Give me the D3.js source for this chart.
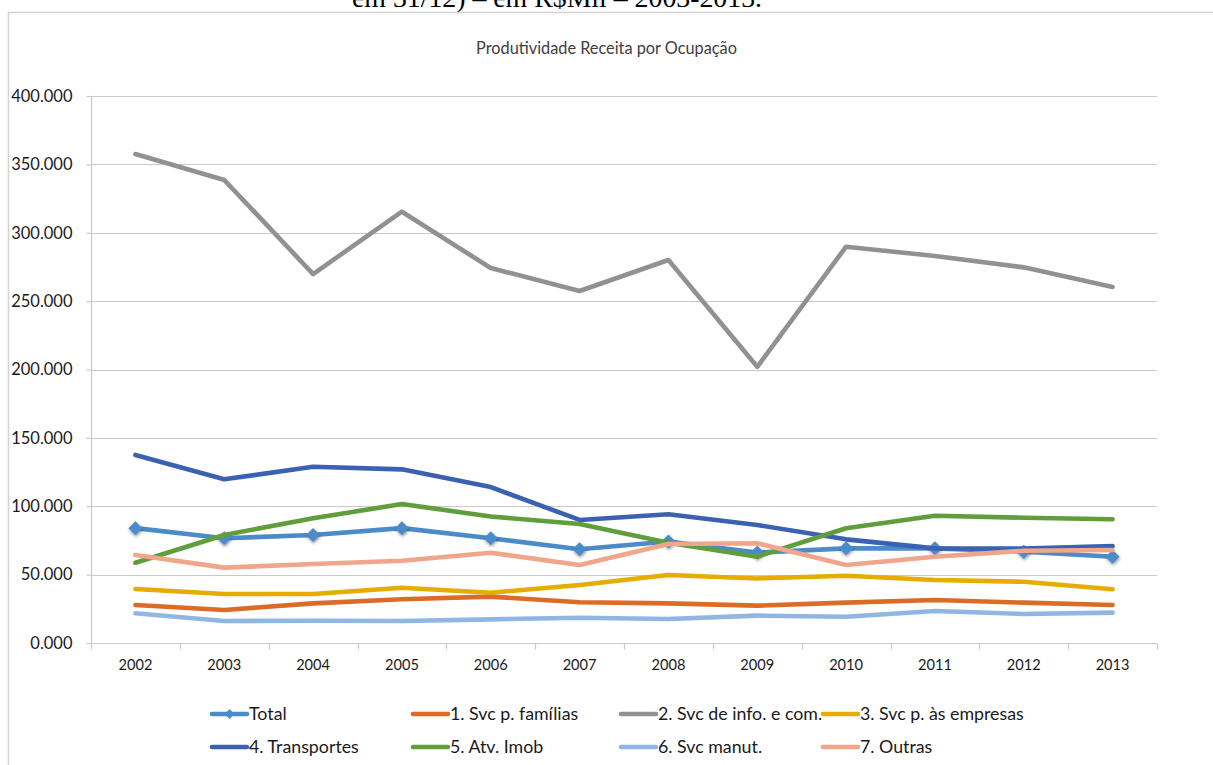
<!DOCTYPE html>
<html lang="pt">
<head>
<meta charset="utf-8">
<script src="https://cdn.jsdelivr.net/npm/d3@7"></script>
<style>
  html, body { margin: 0; padding: 0; background: #fff; }
  svg { display: block; }
</style>
</head>
<body>
<svg id="chart" width="1213" height="765"></svg>
<script>
// Anos (categorias do eixo X)
const years = ["2002","2003","2004","2005","2006","2007","2008","2009","2010","2011","2012","2013"];

// Produtividade (receita por pessoa ocupada), por segmento
const total        = [84.0, 76.6, 79.0, 84.0, 76.6, 68.5, 74.2, 66.1, 69.2, 69.2, 66.8, 63.1];
const svcFamilias  = [27.8, 24.1, 29.0, 32.0, 33.9, 29.8, 29.0, 27.3, 29.5, 31.4, 29.5, 27.8];
const svcInfoCom   = [357.6, 338.6, 269.8, 315.4, 274.2, 257.4, 280.1, 202.0, 289.8, 283.0, 274.7, 260.4];
const svcEmpresas  = [39.5, 35.8, 35.8, 40.4, 36.8, 42.4, 49.7, 47.2, 49.2, 46.1, 44.8, 39.3];
const transportes  = [137.5, 119.7, 128.9, 127.0, 114.0, 90.0, 94.1, 86.3, 75.8, 69.2, 69.0, 70.9];
const atvImob      = [58.7, 79.0, 91.2, 101.6, 92.5, 87.0, 73.3, 63.1, 83.9, 93.1, 91.6, 90.5];
const svcManut     = [21.7, 16.1, 16.3, 16.1, 17.3, 18.5, 17.6, 20.0, 19.2, 23.4, 21.2, 22.2];
const outras       = [64.4, 55.1, 57.8, 60.2, 66.0, 57.0, 72.4, 72.9, 57.0, 63.1, 67.5, 68.0];

// Ticks do eixo Y
const yTicks = [0, 50, 100, 150, 200, 250, 300, 350, 400];

const seriesNames = ["Total", "1. Svc p. famílias", "2. Svc de info. e com.", "3. Svc p. às empresas",
                     "4. Transportes", "5. Atv. Imob", "6. Svc manut.", "7. Outras"];
const seriesValues = [total, svcFamilias, svcInfoCom, svcEmpresas, transportes, atvImob, svcManut, outras];
const seriesColors = ["#4b8bc9", "#dc6b28", "#919191", "#e6ad00", "#3b62b2", "#5f9e3b", "#90b7e3", "#f1a68b"];

const series = seriesNames.map((name, i) => ({
  name, color: seriesColors[i], marker: i === 0,
  values: seriesValues[i].map((v, j) => ({ year: years[j], value: v }))
}));

const svg = d3.select("#chart");
const FONT = "Lato, 'Open Sans', sans-serif";

// Shadow for the Total markers
const defs = svg.append("defs");
const sh = defs.append("filter").attr("id", "mshadow")
  .attr("x", "-50%").attr("y", "-50%").attr("width", "200%").attr("height", "200%");
sh.append("feDropShadow").attr("dx", 0.5).attr("dy", 1.5).attr("stdDeviation", 1.4)
  .attr("flood-color", "#000").attr("flood-opacity", 0.45);

// Page text above the chart frame (clipped by the top edge)
svg.append("text")
  .attr("x", 352).attr("y", 6.5)
  .attr("font-family", "'Liberation Serif', 'Times New Roman', serif")
  .attr("font-size", 27.8).attr("fill", "#000")
  .text("em 31/12) – em R$Mil – 2003-2013.");

// Chart frame
svg.append("path")
  .attr("d", "M8.5,765V12.5H1213")
  .attr("fill", "none").attr("stroke", "#d4d4d4").attr("stroke-width", 1.5);

// Chart title
svg.append("text")
  .attr("x", 606.5).attr("y", 53.5)
  .attr("text-anchor", "middle")
  .attr("font-family", FONT).attr("font-size", 16.3).attr("fill", "#404040")
  .text("Produtividade Receita por Ocupação");

const plot = { left: 91, right: 1157, top: 96, bottom: 643 };

const x = d3.scaleBand().domain(years).range([plot.left, plot.right]).paddingInner(0).paddingOuter(0);
const xc = d => x(d) + x.bandwidth() / 2;
const y = d3.scaleLinear().domain([0, 400]).range([plot.bottom, plot.top]);

const gridColor = "#c9c9c9";

// Horizontal gridlines
svg.append("g")
  .selectAll("line").data(yTicks.filter(t => t > 0)).join("line")
  .attr("x1", plot.left).attr("x2", plot.right)
  .attr("y1", d => Math.round(y(d)) + 0.5).attr("y2", d => Math.round(y(d)) + 0.5)
  .attr("stroke", gridColor).attr("stroke-width", 1.2);

// Y axis
const yAxis = d3.axisLeft(y).tickValues(yTicks).tickSize(5).tickPadding(14)
  .tickFormat(d3.format(".3f"));
const gy = svg.append("g").attr("transform", `translate(${plot.left + 0.5},0)`).call(yAxis);
gy.select(".domain").attr("stroke", gridColor).attr("stroke-width", 1.2)
  .attr("d", `M0,${plot.top}V${plot.bottom}`);
gy.selectAll(".tick line").attr("stroke", gridColor).attr("stroke-width", 1.2);
gy.selectAll(".tick text").attr("font-family", FONT).attr("font-size", 16.5).attr("fill", "#1a1a1a");

// X axis with ticks on category boundaries
const gx = svg.append("g").attr("transform", `translate(0,${plot.bottom + 0.5})`);
gx.append("line").attr("x1", plot.left).attr("x2", plot.right)
  .attr("stroke", gridColor).attr("stroke-width", 1.2);
const boundaries = years.map(d => x(d)).concat([x.range()[1]]);
gx.selectAll("line.tk").data(boundaries).join("line").attr("class", "tk")
  .attr("x1", d => Math.round(d) + 0.5).attr("x2", d => Math.round(d) + 0.5)
  .attr("y1", 0).attr("y2", 6)
  .attr("stroke", gridColor).attr("stroke-width", 1.2);
gx.selectAll("text").data(years).join("text")
  .attr("x", d => xc(d)).attr("y", 26)
  .attr("text-anchor", "middle")
  .attr("font-family", FONT).attr("font-size", 14.6).attr("fill", "#1a1a1a")
  .text(d => d);

// Series lines
const line = d3.line().x(d => xc(d.year)).y(d => y(d.value));
const gLines = svg.append("g");
series.forEach(s => {
  gLines.append("path")
    .datum(s.values)
    .attr("d", line)
    .attr("fill", "none")
    .attr("stroke", s.color)
    .attr("stroke-width", 4.6)
    .attr("stroke-linejoin", "round")
    .attr("stroke-linecap", "round");
  if (s.marker) {
    gLines.append("g").attr("filter", "url(#mshadow)")
      .selectAll("path").data(s.values).join("path")
      .attr("d", "M0,-7L7,0L0,7L-7,0Z")
      .attr("transform", d => `translate(${xc(d.year)},${y(d.value)})`)
      .attr("fill", s.color);
  }
});

// Legend (2 rows x 4 columns)
const legendCols = [212, 413, 621, 823];
const legendRows = [714, 747];
const swatchLen = 35, textGap = 2;
const legend = svg.append("g");
series.forEach((s, i) => {
  const lx = legendCols[i % 4], ly = legendRows[Math.floor(i / 4)];
  const g = legend.append("g").attr("transform", `translate(${lx},${ly})`);
  g.append("line").attr("x1", 0).attr("x2", swatchLen).attr("y1", 0).attr("y2", 0)
    .attr("stroke", s.color).attr("stroke-width", 4.6).attr("stroke-linecap", "round");
  if (s.marker) {
    g.append("path").attr("d", "M0,-5L5,0L0,5L-5,0Z")
      .attr("transform", `translate(${swatchLen / 2},0)`).attr("fill", s.color);
  }
  g.append("text").attr("x", swatchLen + textGap).attr("y", 0).attr("dy", "0.35em")
    .attr("font-family", FONT).attr("font-size", 17.8).attr("fill", "#1a1a1a")
    .text(s.name);
});
</script>
</body>
</html>
